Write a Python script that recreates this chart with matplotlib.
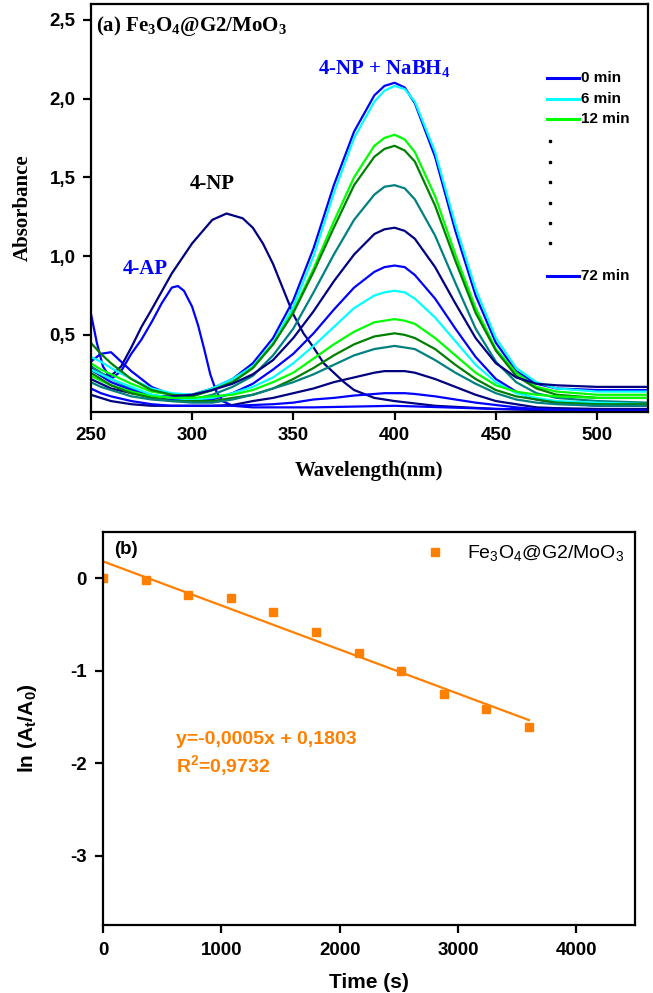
import numpy as np
import matplotlib
matplotlib.use("Agg")
import matplotlib.pyplot as plt
from matplotlib.ticker import FuncFormatter

# ---- panel (a): UV-vis spectra ----
wavelength = [250, 255, 260, 270, 280, 290, 300, 310, 320, 330, 340, 350, 360, 370,
              380, 390, 395, 400, 405, 410, 420, 430, 440, 450, 460, 470, 480, 500, 525]

abs_0min = [0.33, 0.38, 0.39, 0.27, 0.17, 0.12, 0.12, 0.16, 0.22, 0.32, 0.48, 0.72, 1.05, 1.45,
            1.79, 2.02, 2.08, 2.10, 2.07, 1.97, 1.63, 1.16, 0.75, 0.45, 0.27, 0.19, 0.16, 0.15, 0.15]
abs_6min = [0.36, 0.33, 0.29, 0.22, 0.16, 0.13, 0.12, 0.16, 0.22, 0.30, 0.45, 0.68, 1.00, 1.40,
            1.75, 1.98, 2.05, 2.08, 2.06, 1.98, 1.66, 1.20, 0.79, 0.48, 0.29, 0.20, 0.16, 0.14, 0.14]
abs_12min = [0.32, 0.28, 0.25, 0.19, 0.14, 0.12, 0.11, 0.15, 0.20, 0.29, 0.44, 0.65, 0.92, 1.22,
             1.50, 1.70, 1.75, 1.77, 1.74, 1.66, 1.38, 1.01, 0.67, 0.41, 0.26, 0.17, 0.14, 0.12, 0.12]
abs_18min = [0.45, 0.38, 0.32, 0.22, 0.15, 0.12, 0.11, 0.15, 0.20, 0.29, 0.44, 0.64, 0.90, 1.18,
             1.45, 1.63, 1.68, 1.70, 1.67, 1.60, 1.32, 0.97, 0.64, 0.40, 0.24, 0.16, 0.12, 0.10, 0.10]
abs_24min = [0.30, 0.26, 0.22, 0.16, 0.12, 0.10, 0.09, 0.12, 0.17, 0.24, 0.37, 0.54, 0.77, 1.01,
             1.23, 1.39, 1.44, 1.45, 1.43, 1.36, 1.13, 0.83, 0.54, 0.33, 0.20, 0.13, 0.10, 0.08, 0.07]
abs_30min = [0.22, 0.19, 0.16, 0.13, 0.11, 0.11, 0.12, 0.15, 0.19, 0.25, 0.34, 0.48, 0.65, 0.84,
             1.01, 1.14, 1.17, 1.18, 1.16, 1.11, 0.93, 0.70, 0.48, 0.32, 0.23, 0.19, 0.18, 0.17, 0.17]
abs_36min = [0.28, 0.24, 0.20, 0.15, 0.11, 0.09, 0.08, 0.09, 0.13, 0.19, 0.28, 0.38, 0.51, 0.66,
             0.80, 0.90, 0.93, 0.94, 0.93, 0.88, 0.73, 0.54, 0.36, 0.22, 0.14, 0.09, 0.07, 0.05, 0.05]
abs_42min = [0.28, 0.25, 0.22, 0.17, 0.12, 0.10, 0.09, 0.10, 0.13, 0.17, 0.23, 0.32, 0.43, 0.55,
             0.67, 0.75, 0.77, 0.78, 0.77, 0.73, 0.61, 0.46, 0.31, 0.20, 0.13, 0.10, 0.08, 0.07, 0.06]
abs_48min = [0.24, 0.21, 0.18, 0.14, 0.11, 0.10, 0.10, 0.11, 0.12, 0.15, 0.20, 0.26, 0.35, 0.44,
             0.52, 0.58, 0.59, 0.60, 0.59, 0.57, 0.48, 0.37, 0.26, 0.18, 0.14, 0.12, 0.11, 0.10, 0.10]
abs_54min = [0.26, 0.22, 0.18, 0.13, 0.10, 0.08, 0.08, 0.08, 0.10, 0.12, 0.16, 0.22, 0.29, 0.37,
             0.44, 0.49, 0.50, 0.51, 0.50, 0.48, 0.41, 0.31, 0.22, 0.15, 0.11, 0.09, 0.07, 0.06, 0.06]
abs_60min = [0.20, 0.17, 0.15, 0.11, 0.09, 0.08, 0.07, 0.07, 0.09, 0.12, 0.16, 0.20, 0.25, 0.31,
             0.37, 0.41, 0.42, 0.43, 0.42, 0.41, 0.34, 0.26, 0.19, 0.13, 0.09, 0.07, 0.06, 0.05, 0.05]
abs_66min = [0.12, 0.10, 0.08, 0.06, 0.05, 0.05, 0.05, 0.05, 0.055, 0.08, 0.10, 0.13, 0.16, 0.20,
             0.23, 0.26, 0.27, 0.27, 0.27, 0.26, 0.22, 0.17, 0.12, 0.08, 0.06, 0.04, 0.035, 0.03, 0.03]
abs_72min = [0.16, 0.13, 0.11, 0.08, 0.06, 0.05, 0.05, 0.05, 0.05, 0.055, 0.06, 0.07, 0.09, 0.10,
             0.115, 0.125, 0.13, 0.13, 0.13, 0.125, 0.11, 0.09, 0.07, 0.055, 0.04, 0.03, 0.025, 0.02, 0.02]

spectra = [abs_0min, abs_6min, abs_12min, abs_18min, abs_24min, abs_30min, abs_36min,
           abs_42min, abs_48min, abs_54min, abs_60min, abs_66min, abs_72min]
spec_colors = ['#0000ff', '#00ffff', '#00ff00', '#008000', '#008080', '#000080']

wl_4np = [250, 255, 260, 265, 270, 275, 280, 290, 300, 310, 317, 325, 330, 335, 340, 345, 350,
          355, 360, 365, 370, 375, 380, 390, 400, 420, 450, 480, 525]
abs_4np = [0.30, 0.25, 0.24, 0.30, 0.42, 0.55, 0.66, 0.89, 1.08, 1.23, 1.27, 1.24, 1.18, 1.08,
           0.95, 0.79, 0.63, 0.51, 0.42, 0.32, 0.26, 0.20, 0.15, 0.10, 0.08, 0.05, 0.03, 0.02, 0.01]

wl_4ap = [250, 253, 256, 260, 265, 270, 275, 280, 285, 290, 293, 296, 300, 303, 306, 309, 312,
          315, 320, 330, 360, 400, 450, 525]
abs_4ap = [0.64, 0.45, 0.30, 0.22, 0.27, 0.38, 0.47, 0.58, 0.70, 0.80, 0.81, 0.78, 0.68, 0.56,
           0.41, 0.25, 0.14, 0.08, 0.05, 0.04, 0.04, 0.05, 0.03, 0.02]

legend_labels = ['0 min', '6 min', '12 min', '72 min']
legend_colors = ['#0000ff', '#00ffff', '#00ff00', '#0000ff']

# ---- panel (b): kinetics ----
time_s = [0, 360, 720, 1080, 1440, 1800, 2160, 2520, 2880, 3240, 3600]
ln_ratio = [0.0, -0.02, -0.18, -0.22, -0.37, -0.58, -0.81, -1.0, -1.25, -1.42, -1.61]

orange = '#ff8000'
comma = FuncFormatter(lambda v, p: f"{v:.1f}".replace('.', ','))

plt.rcParams['font.family'] = 'Liberation Sans'
plt.rcParams['font.weight'] = 'bold'
plt.rcParams['axes.labelweight'] = 'bold'
plt.rcParams['axes.unicode_minus'] = False
plt.rcParams['axes.linewidth'] = 1.6

fig = plt.figure(figsize=(6.53, 9.93), dpi=100)

# panel (a)
ax1 = fig.add_axes([0.139, 0.585, 0.853, 0.411])
ax1.plot(wl_4np, abs_4np, color='#000080', lw=1.6)
ax1.plot(wl_4ap, abs_4ap, color='#0000ff', lw=1.6)
for i, a in enumerate(spectra):
    ax1.plot(wavelength, a, color=spec_colors[i % 6], lw=1.6)

ax1.set_xlim(250, 525)
ax1.set_ylim(0.01, 2.6)
ax1.set_xticks([250, 300, 350, 400, 450, 500])
ax1.set_yticks([0.5, 1.0, 1.5, 2.0, 2.5])
ax1.yaxis.set_major_formatter(comma)
ax1.tick_params(direction='out', length=6, width=1.6, labelsize=13.5, pad=5)
ax1.set_xlabel('Wavelength(nm)', family='Liberation Serif', fontweight='bold', fontsize=15, labelpad=12)
ax1.set_ylabel('Absorbance', family='Liberation Serif', fontweight='bold', fontsize=15, labelpad=12)

serif = dict(family='Liberation Serif', fontweight='bold', fontsize=15)
ax1.text(0.01, 0.975, r'(a) Fe$\mathregular{_3}$O$\mathregular{_4}$@G2/MoO$\mathregular{_3}$',
         transform=ax1.transAxes, ha='left', va='top', **serif)
ax1.text(395, 2.19, r'4-NP + NaBH$\mathregular{_4}$', color='#0000ff', ha='center', va='center', **serif)
ax1.text(310, 1.46, '4-NP', color='black', ha='center', va='center', **serif)
ax1.text(277, 0.92, '4-AP', color='#0000ff', ha='center', va='center', **serif)

# hand-drawn style legend
rows = [0.819, 0.767, 0.718, 0.333]
for lab, col, ry in zip(legend_labels, legend_colors, rows):
    ax1.plot([0.819, 0.876], [ry, ry], color=col, lw=2.2, transform=ax1.transAxes)
    ax1.text(0.881, ry, lab, transform=ax1.transAxes, ha='left', va='center', fontsize=11)
for dy in [0.664, 0.613, 0.564, 0.512, 0.463, 0.414]:
    ax1.plot([0.824], [dy], marker='s', ms=1.5, color='black', transform=ax1.transAxes)

# panel (b)
ax2 = fig.add_axes([0.158, 0.0685, 0.815, 0.396])
ax2.plot(time_s, ln_ratio, 's', color=orange, ms=6, label=r'Fe$\mathregular{_3}$O$\mathregular{_4}$@G2/MoO$\mathregular{_3}$')
k, b = np.polyfit(time_s, ln_ratio, 1)
xf = np.array([min(time_s), max(time_s)])
ax2.plot(xf, k * xf + b, color=orange, lw=1.6)

ax2.set_xlim(0, 4500)
ax2.set_ylim(-3.75, 0.5)
ax2.set_xticks([0, 1000, 2000, 3000, 4000])
ax2.set_yticks([0, -1, -2, -3])
ax2.tick_params(direction='out', length=6, width=1.6, labelsize=13.5, pad=6)
ax2.set_xlabel('Time (s)', fontsize=15, labelpad=10)
ax2.set_ylabel(r'ln (A$\mathregular{_t}$/A$\mathregular{_0}$)', fontsize=15, labelpad=22)

ax2.text(0.02, 0.955, '(b)', transform=ax2.transAxes, ha='left', va='center', fontsize=13.5)
ax2.text(620, -1.74, 'y=-0,0005x + 0,1803', color=orange, ha='left', va='center', fontsize=14)
ax2.text(620, -2.03, r'R$\mathregular{^2}$=0,9732', color=orange, ha='left', va='center', fontsize=14)
ax2.legend(loc='upper right', frameon=False, handletextpad=0.6, borderaxespad=0.2,
           prop={'weight': 'normal', 'size': 14})

fig.savefig('out.png', dpi=100, facecolor='white')
